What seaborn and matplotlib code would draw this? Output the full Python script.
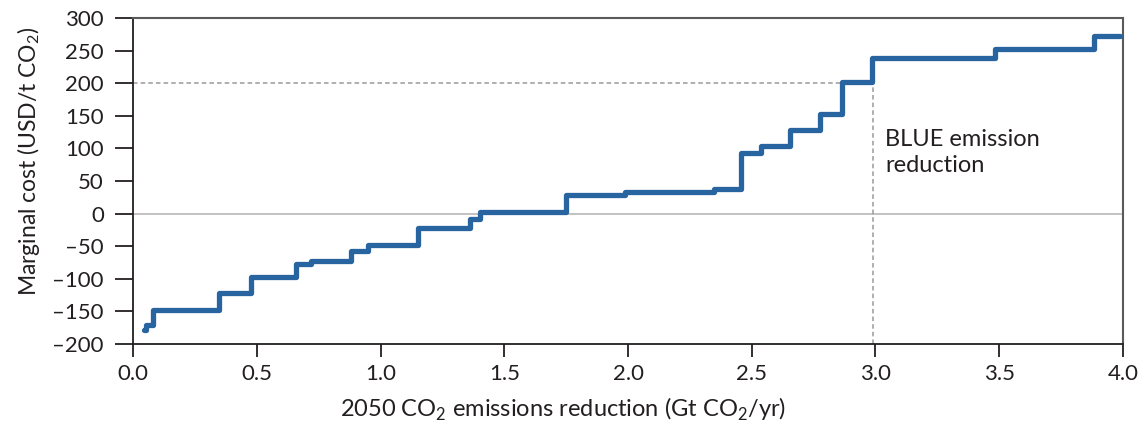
import matplotlib
matplotlib.use("Agg")
import matplotlib.pyplot as plt
import seaborn as sns
import pandas as pd

# Marginal abatement cost curve (step start, cost level)
reduction = [0.045, 0.052, 0.082, 0.348, 0.475, 0.657, 0.719, 0.881, 0.951, 1.150,
             1.362, 1.402, 1.748, 1.988, 2.349, 2.455, 2.537, 2.655, 2.776, 2.863,
             2.985, 3.483, 3.884, 3.990]
cost = [-178, -171, -148, -122, -97, -77, -72, -57, -48, -22,
        -8, 3, 28, 33, 38, 93, 103, 128, 153, 202,
        238, 253, 273, 273]

blue_x = 2.99
blue_y = 200
x_ticks = [0.0, 0.5, 1.0, 1.5, 2.0, 2.5, 3.0, 3.5, 4.0]
y_ticks = [-200, -150, -100, -50, 0, 50, 100, 150, 200, 250, 300]

df = pd.DataFrame({"reduction": reduction, "cost": cost})

sns.set_style("white")
plt.rcParams['font.family'] = ['Lato', 'DejaVu Sans']
plt.rcParams['mathtext.fontset'] = 'custom'
plt.rcParams['mathtext.rm'] = 'Lato'

fig = plt.figure(figsize=(11.48, 4.29), dpi=100)
ax = fig.add_axes([0.1159, 0.198, 0.8623, 0.760])

# zero line and BLUE reference lines
ax.axhline(0, color="#bdbdbd", lw=1.3, zorder=1)
ax.plot([0, blue_x], [blue_y, blue_y], color="#9a9a9a", lw=1.1, ls=(0, (3, 2)), zorder=1)
ax.plot([blue_x, blue_x], [-200, blue_y], color="#9a9a9a", lw=1.1, ls=(0, (3, 2)), zorder=1)

sns.lineplot(data=df, x="reduction", y="cost", drawstyle="steps-post",
             color="#28649f", lw=3.8, ax=ax, zorder=3)

ax.text(3.04, 94, "BLUE emission\nreduction", fontsize=17, color="#231f20",
        va="center", ha="left", linespacing=1.3)

ax.set_xlim(0, 4.0)
ax.set_ylim(-200, 300)
ax.set_xticks(x_ticks)
ax.set_xticklabels([f"{t:.1f}" for t in x_ticks])
ax.set_yticks(y_ticks)
ax.set_yticklabels([str(t).replace("-", "\u2013") for t in y_ticks])
ax.tick_params(axis="y", direction="out", length=13, width=1.3, labelsize=16,
               colors="#231f20", pad=8, left=True)
ax.tick_params(axis="x", direction="out", length=9, width=1.3, labelsize=16,
               colors="#231f20", pad=5, bottom=True)

ax.set_xlabel("2050 CO$_2$ emissions reduction (Gt CO$_2$/yr)", fontsize=17, color="#231f20")
ax.set_ylabel("Marginal cost (USD/t CO$_2$)", fontsize=16.5, color="#231f20")
ax.xaxis.set_label_coords(0.434, -0.16)
ax.yaxis.set_label_coords(-0.092, 0.56)

for side in ["left", "bottom"]:
    ax.spines[side].set_color("#231f20")
    ax.spines[side].set_linewidth(1.3)
for side in ["top", "right"]:
    ax.spines[side].set_color("#5a5a5a")
    ax.spines[side].set_linewidth(1.5)

fig.savefig("out.png", dpi=100)
